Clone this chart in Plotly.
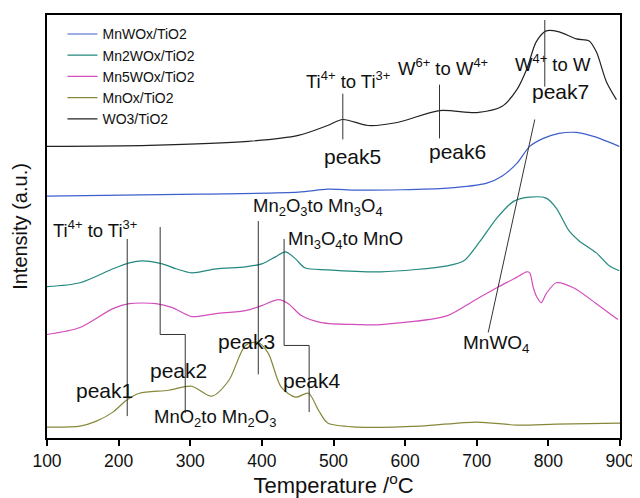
import plotly.graph_objects as go

# ---- data (temperature in °C, intensity in arbitrary units) ----
wo3_T = [100, 243, 381, 451, 492, 513, 548, 589, 648, 700, 735, 756, 770, 783, 797, 815, 839, 857, 867, 881, 895]
wo3_I = [293, 294, 298, 304, 314, 320, 314, 317, 329, 327, 333, 350, 371, 398, 409, 408, 401, 399, 388, 358, 340]

mnw_T = [100, 312, 451, 492, 534, 659, 714, 735, 756, 774, 793, 815, 839, 863, 899]
mnw_I = [243, 245, 247, 250, 249, 251, 256, 263, 276, 293, 301, 306, 307, 303, 293]

mn2w_T = [100, 146, 192, 215, 233, 261, 280, 302, 336, 377, 400, 419, 433, 447, 460, 492, 566, 659, 682, 705, 728, 752, 774, 797, 811, 829, 843, 867, 885, 899]
mn2w_I = [152, 156, 170, 176, 178, 175, 170, 166, 170, 172, 175, 182, 187, 180, 171, 169, 167, 173, 178, 198, 221, 238, 242, 241, 231, 208, 198, 186, 173, 168]

mn5w_T = [100, 146, 192, 215, 252, 275, 302, 336, 377, 400, 423, 437, 455, 483, 534, 566, 659, 696, 728, 752, 770, 774, 779, 783, 790, 797, 811, 835, 867, 897]
mn5w_I = [104, 111, 130, 135, 135, 131, 122, 125, 128, 133, 139, 135, 123, 116, 114, 114, 123, 138, 151, 160, 167, 166, 151, 143, 136, 145, 156, 151, 135, 119]

mnox_T = [100, 146, 169, 192, 211, 229, 270, 302, 330, 354, 377, 395, 409, 427, 447, 465, 479, 492, 534, 621, 700, 756, 811, 900]
mnox_I = [11, 12, 17, 26, 38, 45, 48, 52, 42, 58, 93, 96, 85, 51, 41, 45, 28, 15, 11, 12, 16, 13, 14, 15]

series_names = ["MnWOx/TiO2", "Mn2WOx/TiO2", "Mn5WOx/TiO2", "MnOx/TiO2", "WO3/TiO2"]
tick_vals = [100, 200, 300, 400, 500, 600, 700, 800, 900]

# annotation guide lines (T, I)
peak1_T = [212, 212]; peak1_I = [200, 22]
peak2_T = [258, 258, 293, 293]; peak2_I = [212, 104, 104, 25]
peak3_T = [395, 395]; peak3_I = [218, 64]
peak4_T = [431, 431, 466, 466]; peak4_I = [200, 93, 93, 26]
mnwo4_T = [716, 781]; mnwo4_I = [106, 320]
peak5_T = [513, 513]; peak5_I = [346, 300]
peak6_T = [648, 648]; peak6_I = [355, 301]
peak7_T = [795, 795]; peak7_I = [420, 353]

# labels: (text, T, I, font size)
label_text = ["Ti<sup>4+</sup> to Ti<sup>3+</sup>", "peak1", "peak2", "MnO<sub>2</sub>to Mn<sub>2</sub>O<sub>3</sub>",
              "Mn<sub>2</sub>O<sub>3</sub>to Mn<sub>3</sub>O<sub>4</sub>", "peak3", "Mn<sub>3</sub>O<sub>4</sub>to MnO", "peak4",
              "MnWO<sub>4</sub>", "Ti<sup>4+</sup> to Ti<sup>3+</sup>", "peak5", "W<sup>6+</sup> to W<sup>4+</sup>", "peak6",
              "W<sup>4+</sup> to W", "peak7"]
label_T = [167, 180, 284, 334, 478, 379, 517, 470, 728, 520, 526, 653, 673, 806, 817]
label_I = [210, 48, 68, 20, 232, 97, 199, 58, 94, 360, 283, 373, 288, 377, 348]
label_size = [18.5, 21, 21, 18.5, 18.5, 21, 18.5, 21, 19, 18.5, 21, 18.5, 21, 18.5, 21]

colors = ["#3d5fcc", "#23897f", "#d24fbd", "#87873a", "#222222"]

fig = go.Figure()
data = [(mnw_T, mnw_I), (mn2w_T, mn2w_I), (mn5w_T, mn5w_I), (mnox_T, mnox_I), (wo3_T, wo3_I)]
for (t, i), name, c in zip(data, series_names, colors):
    fig.add_trace(go.Scatter(x=t, y=i, mode="lines", name=name,
                             line=dict(color=c, width=1.2, shape="spline", smoothing=0.8)))

for t, i in [(peak1_T, peak1_I), (peak2_T, peak2_I), (peak3_T, peak3_I), (peak4_T, peak4_I),
             (mnwo4_T, mnwo4_I), (peak5_T, peak5_I), (peak6_T, peak6_I), (peak7_T, peak7_I)]:
    fig.add_trace(go.Scatter(x=t, y=i, mode="lines", showlegend=False, hoverinfo="skip",
                             line=dict(color="#333333", width=1)))

for txt, t, i, s in zip(label_text, label_T, label_I, label_size):
    fig.add_annotation(x=t, y=i, xref="x", yref="y", text=txt, showarrow=False,
                       font=dict(family="Liberation Sans, Arial", size=s, color="#111111"))

# page body has an 8px margin: figure is sized/margined so the plot area lands where the reference has it
fig.update_layout(
    width=632, height=490,
    margin=dict(l=39, r=16, t=5, b=60),
    plot_bgcolor="white", paper_bgcolor="white",
    font=dict(family="Liberation Sans, Arial", color="#111111"),
    showlegend=True,
    legend=dict(x=0.027, y=0.992, xanchor="left", yanchor="top", bgcolor="rgba(0,0,0,0)",
                font=dict(size=14), tracegroupgap=0, itemwidth=30),
    xaxis=dict(range=[100, 900], tickvals=tick_vals,
               ticks="outside", ticklen=6, tickwidth=1.5, tickcolor="black",
               showline=True, linecolor="black", linewidth=2, mirror=True,
               showgrid=False, zeroline=False, tickfont=dict(size=17.5),
               title=dict(text="Temperature /<sup>o</sup>C", font=dict(size=22), standoff=4)),
    yaxis=dict(range=[0, 425], showticklabels=False, ticks="",
               showline=True, linecolor="black", linewidth=2, mirror=True,
               showgrid=False, zeroline=False,
               title=dict(text="Intensity (a.u.)", font=dict(size=20), standoff=12)),
)

fig.write_html("out.html")
